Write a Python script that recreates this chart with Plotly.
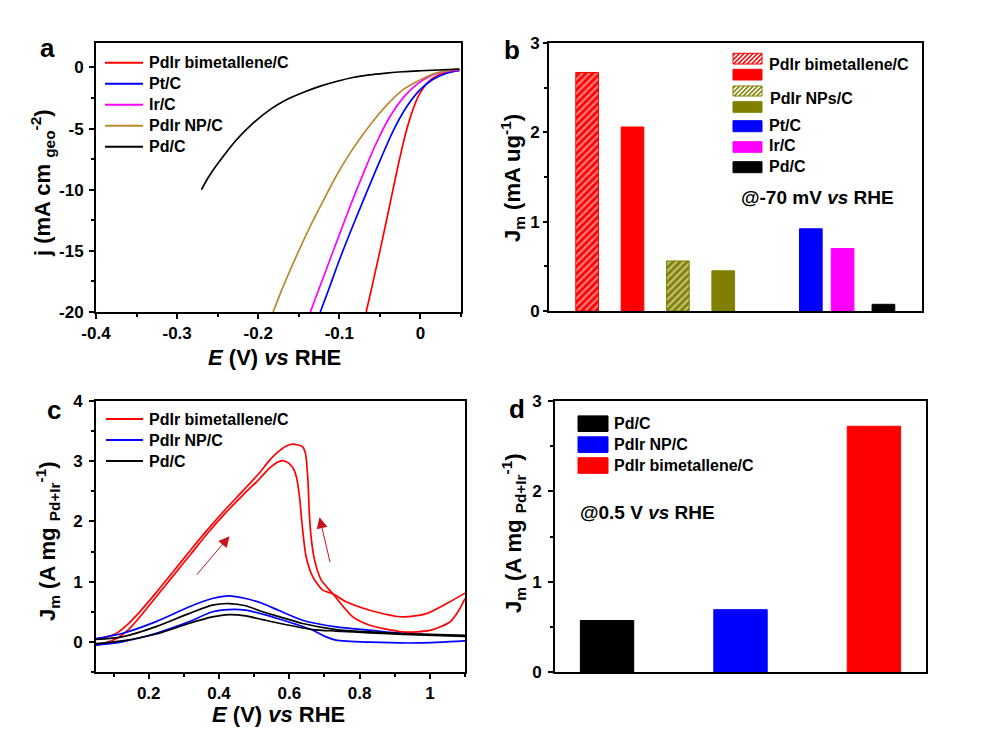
import plotly.graph_objects as go
import numpy as np

# ---------------- Panel a: LSV curves ----------------
lsv_names = ["PdIr bimetallene/C", "Pt/C", "Ir/C", "PdIr NP/C", "Pd/C"]
lsv_colors = ["#FF0000", "#0000FF", "#FF00FF", "#B8892E", "#000000"]

lsv_E_bimetallene = [-0.0669, -0.0587, -0.0504, -0.0422, -0.034, -0.0258, -0.0176, -0.0094, -0.0012, 0.011, 0.0275, 0.048]
lsv_j_bimetallene = [-20.0, -17.62, -15.16, -12.62, -10.03, -7.51, -5.24, -3.47, -2.18, -1.09, -0.49, -0.24]
lsv_E_pt = [-0.1235, -0.112, -0.0997, -0.0833, -0.0669, -0.0504, -0.034, -0.0176, -0.0012, 0.0152, 0.0316, 0.048]
lsv_j_pt = [-20.0, -17.95, -15.71, -12.95, -10.3, -7.70, -5.24, -3.28, -1.88, -0.98, -0.49, -0.24]
lsv_E_ir = [-0.1358, -0.1243, -0.112, -0.0997, -0.0853, -0.0709, -0.0545, -0.0381, -0.0217, -0.0053, 0.011, 0.0316, 0.048]
lsv_j_ir = [-20.0, -17.98, -15.79, -13.63, -11.12, -8.74, -6.2, -4.07, -2.51, -1.42, -0.73, -0.33, -0.19]
lsv_E_np = [-0.1817, -0.1694, -0.153, -0.1366, -0.1202, -0.1038, -0.0874, -0.0709, -0.0545, -0.0381, -0.0217, 0.0, 0.0193, 0.048]
lsv_j_np = [-20.0, -17.95, -15.43, -13.09, -10.95, -8.88, -7.07, -5.49, -4.07, -2.84, -1.83, -1.0, -0.46, -0.11]
lsv_E_pd = [-0.270, -0.2597, -0.2433, -0.227, -0.2063, -0.186, -0.1653, -0.1448, -0.1243, -0.1038, -0.0833, -0.0627, -0.0422, -0.0217, 0.0, 0.048]
lsv_j_pd = [-10.0, -8.8, -7.29, -5.93, -4.56, -3.47, -2.65, -2.05, -1.55, -1.15, -0.82, -0.60, -0.46, -0.35, -0.27, -0.13]

# ---------------- Panel b: mass activity HER ----------------
b_labels = ["PdIr bimetallene/C", "PdIr bimetallene/C", "PdIr NPs/C", "PdIr NPs/C", "Pt/C", "Ir/C", "Pd/C"]
b_values = [2.67, 2.06, 0.56, 0.45, 0.92, 0.70, 0.075]
b_colors = ["#FF0000", "#FF0000", "#808000", "#808000", "#0000FF", "#FF00FF", "#000000"]
b_hatch = ["/", "", "/", "", "", "", ""]
b_note = "@-70 mV <i>vs</i> RHE"

# ---------------- Panel c: CV curves ----------------
cv_names = ["PdIr bimetallene/C", "PdIr NP/C", "Pd/C"]
cv_colors = ["#FF0000", "#0000FF", "#000000"]

cv_bim_fwd_E = [0.05, 0.08, 0.11, 0.14, 0.17, 0.22, 0.27, 0.32, 0.37, 0.42, 0.47, 0.514, 0.543, 0.565, 0.581, 0.60, 0.614, 0.621, 0.629, 0.638, 0.648, 0.667, 0.695, 0.724, 0.762, 0.829, 0.924, 0.99, 1.048, 1.1]
cv_bim_fwd_J = [-0.05, -0.01, 0.06, 0.19, 0.38, 0.74, 1.10, 1.46, 1.82, 2.15, 2.45, 2.70, 2.88, 2.98, 3.01, 2.96, 2.85, 2.72, 2.41, 1.86, 1.41, 1.08, 0.86, 0.80, 0.665, 0.526, 0.415, 0.47, 0.637, 0.81]
cv_bim_bwd_E = [1.1, 1.08, 1.057, 1.0, 0.924, 0.829, 0.781, 0.724, 0.691, 0.672, 0.662, 0.657, 0.653, 0.646, 0.638, 0.625, 0.61, 0.59, 0.567, 0.543, 0.514, 0.47, 0.42, 0.37, 0.32, 0.27, 0.22, 0.17, 0.14, 0.11, 0.08, 0.05]
cv_bim_bwd_J = [0.72, 0.50, 0.33, 0.19, 0.166, 0.277, 0.415, 0.80, 1.025, 1.357, 1.745, 2.13, 2.69, 3.13, 3.24, 3.27, 3.285, 3.25, 3.15, 3.01, 2.80, 2.52, 2.21, 1.88, 1.53, 1.17, 0.81, 0.47, 0.29, 0.15, 0.08, 0.05]

cv_np_up_E = [0.05, 0.124, 0.219, 0.314, 0.381, 0.429, 0.476, 0.524, 0.571, 0.638, 0.733, 0.829, 0.924, 1.1]
cv_np_up_J = [0.055, 0.139, 0.332, 0.58, 0.72, 0.765, 0.72, 0.637, 0.52, 0.36, 0.25, 0.194, 0.139, 0.10]
cv_np_low_E = [0.05, 0.124, 0.219, 0.314, 0.381, 0.429, 0.476, 0.524, 0.571, 0.62, 0.667, 0.705, 0.733, 0.829, 0.971, 1.1]
cv_np_low_J = [-0.055, 0.0, 0.139, 0.332, 0.5, 0.537, 0.526, 0.46, 0.38, 0.29, 0.194, 0.083, 0.028, -0.005, -0.017, 0.017]

cv_pd_up_E = [0.05, 0.124, 0.219, 0.314, 0.381, 0.429, 0.476, 0.524, 0.571, 0.638, 0.733, 0.829, 0.924, 1.1]
cv_pd_up_J = [0.04, 0.083, 0.25, 0.47, 0.61, 0.637, 0.6, 0.5, 0.42, 0.305, 0.205, 0.166, 0.139, 0.11]
cv_pd_low_E = [0.05, 0.124, 0.219, 0.314, 0.381, 0.429, 0.476, 0.524, 0.571, 0.667, 0.733, 0.829, 0.924, 1.1]
cv_pd_low_J = [-0.028, 0.017, 0.127, 0.305, 0.415, 0.454, 0.432, 0.37, 0.31, 0.205, 0.18, 0.15, 0.125, 0.09]

# scan-direction arrows (tail E, tail J, head E, head J)
cv_arrows = [(0.333, 1.09, 0.430, 1.756), (0.717, 1.30, 0.686, 2.07)]

# ---------------- Panel d: mass activity EOR ----------------
d_labels = ["Pd/C", "PdIr NP/C", "PdIr bimetallene/C"]
d_values = [0.57, 0.69, 2.72]
d_colors = ["#000000", "#0000FF", "#FF0000"]
d_note = "@0.5 V <i>vs</i> RHE"

# ---------------- figure ----------------
W, H = 1000, 742
FONT = "Arial, 'Liberation Sans', sans-serif"


def px(x):
    return x / W


def py(y):
    return 1 - y / H


fig = go.Figure()

# panel a traces
lsv_E = [lsv_E_bimetallene, lsv_E_pt, lsv_E_ir, lsv_E_np, lsv_E_pd]
lsv_j = [lsv_j_bimetallene, lsv_j_pt, lsv_j_ir, lsv_j_np, lsv_j_pd]
for name, col, E, j in zip(lsv_names, lsv_colors, lsv_E, lsv_j):
    fig.add_trace(go.Scatter(x=E, y=j, mode="lines", name=name, xaxis="x", yaxis="y",
                             line=dict(color=col, width=1.7, shape="spline", smoothing=1.0)))

# panel b bars (positions spaced as in original)
b_pos = [0, 1, 2, 3, 4.93, 5.63, 6.53]
fig.add_trace(go.Bar(x=b_pos, y=b_values, width=0.5, xaxis="x2", yaxis="y2",
                     marker=dict(color=b_colors, line=dict(color=b_colors, width=1),
                                 pattern=dict(shape=b_hatch, fgcolor=b_colors, bgcolor="white",
                                              size=5, solidity=0.45)),
                     hovertext=b_labels))

# panel c traces
cv_sets = [
    [(cv_bim_fwd_E, cv_bim_fwd_J), (cv_bim_bwd_E, cv_bim_bwd_J)],
    [(cv_np_up_E, cv_np_up_J), (cv_np_low_E, cv_np_low_J)],
    [(cv_pd_up_E, cv_pd_up_J), (cv_pd_low_E, cv_pd_low_J)],
]
for name, col, pairs in zip(cv_names, cv_colors, cv_sets):
    for E, J in pairs:
        fig.add_trace(go.Scatter(x=E, y=J, mode="lines", name=name, xaxis="x3", yaxis="y3",
                                 line=dict(color=col, width=1.7, shape="spline", smoothing=0.7)))

# panel d bars
fig.add_trace(go.Bar(x=list(range(len(d_values))), y=d_values, width=0.4, xaxis="x4", yaxis="y4",
                     marker=dict(color=d_colors, line=dict(color=d_colors, width=1)),
                     hovertext=d_labels))

tickfont = dict(family=FONT, size=17, color="black", weight="bold")


def axis(domain, rng, anchor, tickvals=None, ticktext=None, minor=None, show=True, ticklen=5, standoff=4):
    d = dict(domain=domain, range=rng, anchor=anchor, showline=True, linecolor="black", linewidth=1.8,
             mirror=True, showgrid=False, zeroline=False, tickfont=tickfont, fixedrange=True,
             automargin=False)
    if show:
        d.update(ticks="outside", ticklen=ticklen, tickwidth=1.5, tickcolor="black",
                 tickmode="array", tickvals=tickvals, ticktext=ticktext, ticklabelstandoff=standoff)
        if minor is not None:
            d["minor"] = dict(tickmode="array", tickvals=minor, ticks="outside", ticklen=3,
                              tickwidth=1.5, tickcolor="black", showgrid=False)
    else:
        d.update(ticks="", showticklabels=False)
    return d


def rng_vals(a, b, step):
    return [round(v, 4) for v in np.arange(a, b + step / 2, step)]


fig.update_layout(
    width=W, height=H, margin=dict(l=0, r=0, t=0, b=0, pad=0), autosize=False,
    paper_bgcolor="white", plot_bgcolor="white", showlegend=False,
    font=dict(family=FONT, color="black"),
    xaxis=axis([px(96), px(461)], [-0.4, 0.05], "y",
               [-0.4, -0.3, -0.2, -0.1, 0.0], ["-0.4", "-0.3", "-0.2", "-0.1", "0"],
               rng_vals(-0.4, 0.05, 0.05), standoff=0),
    yaxis=axis([py(312), py(43)], [-20, 2], "x",
               [0, -5, -10, -15, -20], ["0", "-5", "-10", "-15", "-20"],
               rng_vals(-20, 0, 2.5), standoff=2),
    xaxis2=axis([px(549), px(922)], [-0.84, 7.38], "y2", show=False),
    yaxis2=axis([py(311), py(43)], [0, 3], "x2", [0, 1, 2, 3], ["0", "1", "2", "3"],
                rng_vals(0, 3, 0.5), ticklen=4, standoff=0),
    xaxis3=axis([px(96), px(465)], [0.05, 1.1], "y3",
                [0.2, 0.4, 0.6, 0.8, 1.0], ["0.2", "0.4", "0.6", "0.8", "1"],
                rng_vals(0.1, 1.1, 0.1), standoff=0),
    yaxis3=axis([py(672), py(401)], [-0.5, 4], "x3", [0, 1, 2, 3, 4], ["0", "1", "2", "3", "4"],
                rng_vals(-0.5, 4, 0.5), standoff=3),
    xaxis4=axis([px(555), px(926)], [-0.39, 2.39], "y4", show=False),
    yaxis4=axis([py(672), py(401)], [0, 3], "x4", [0, 1, 2, 3], ["0", "1", "2", "3"],
                rng_vals(0, 3, 0.5), ticklen=5, standoff=3),
)

ann = []
shapes = []


def text(x, y, s, size=16, xanchor="left", angle=0):
    ann.append(dict(x=px(x), y=py(y), xref="paper", yref="paper", text=s, showarrow=False,
                    xanchor=xanchor, yanchor="middle", textangle=angle,
                    font=dict(family=FONT, size=size, color="black")))


# panel letters
text(47, 48, "<b>a</b>", 26, "center")
text(512, 50, "<b>b</b>", 26, "center")
text(54, 410, "<b>c</b>", 26, "center")
text(517, 409, "<b>d</b>", 26, "center")

# axis titles
xt = "<b><i>E</i> (V) <i>vs</i> RHE</b>"
text(274, 357, xt, 22, "center")
text(278, 714, xt, 22, "center")
text(42, 183, "<b>j (mA cm <sub>geo</sub><sup>-2</sup>)</b>", 22, "center", -90)
text(513, 178, "<b>J<sub>m</sub> (mA ug<sup>-1</sup>)</b>", 22, "center", -90)
text(47, 541, "<b>J<sub>m</sub> (A mg <sub>Pd+Ir</sub><sup>-1</sup>)</b>", 22, "center", -90)
text(513, 533, "<b>J<sub>m</sub> (A mg <sub>Pd+Ir</sub><sup>-1</sup>)</b>", 22, "center", -90)

# notes
text(817, 197, "<b>" + b_note + "</b>", 19, "center")
text(578, 512, "<b>" + d_note + "</b>", 19, "left")

# legend a
for i, (name, col) in enumerate(zip(lsv_names, lsv_colors)):
    yy = 62.7 + 21 * i
    shapes.append(dict(type="line", xref="paper", yref="paper", x0=px(105), x1=px(143),
                       y0=py(yy), y1=py(yy), line=dict(color=col, width=2)))
    text(147, yy, "<b>" + name + "</b>", 16)

# legend c
for i, (name, col) in enumerate(zip(cv_names, cv_colors)):
    yy = 419 + 21 * i
    shapes.append(dict(type="line", xref="paper", yref="paper", x0=px(106), x1=px(143),
                       y0=py(yy), y1=py(yy), line=dict(color=col, width=2)))
    text(147, yy, "<b>" + name + "</b>", 16)


def rect(x0, y0, x1, y1, col):
    shapes.append(dict(type="rect", xref="paper", yref="paper", x0=px(x0), x1=px(x1),
                       y0=py(y1), y1=py(y0), fillcolor=col, line=dict(color=col, width=1)))


def hatch(x0, y0, x1, y1, col, p=4.5):
    shapes.append(dict(type="rect", xref="paper", yref="paper", x0=px(x0), x1=px(x1),
                       y0=py(y1), y1=py(y0), fillcolor="white", line=dict(color=col, width=1)))
    segs = []
    c = x0 + y0 + p / 2
    while c < x1 + y1:
        lo = max(x0, c - y1)
        hi = min(x1, c - y0)
        if hi > lo:
            segs.append("M%.5f,%.5f L%.5f,%.5f" % (px(lo), py(c - lo), px(hi), py(c - hi)))
        c += p
    shapes.append(dict(type="path", xref="paper", yref="paper", path=" ".join(segs),
                       line=dict(color=col, width=1.6)))


# legend b
bx0, bx1 = 733, 762
hatch(bx0, 53.3, bx1, 64, b_colors[0])
rect(bx0, 69.3, bx1, 80, b_colors[1])
hatch(bx0, 86, bx1, 96, b_colors[2])
rect(bx0, 101.7, bx1, 112.3, b_colors[3])
rect(bx0, 120.7, bx1, 131.7, b_colors[4])
rect(bx0, 141.7, bx1, 152.3, b_colors[5])
rect(bx0, 161.7, bx1, 172.7, b_colors[6])
text(767, 64.3, "<b>" + b_labels[0] + "</b>", 16)
text(768, 98.3, "<b>" + b_labels[2] + "</b>", 16)
text(767, 125.7, "<b>" + b_labels[4] + "</b>", 16)
text(767, 145.7, "<b>" + b_labels[5] + "</b>", 16)
text(767, 166.7, "<b>" + b_labels[6] + "</b>", 16)

# legend d
for i, (name, col) in enumerate(zip(d_labels, d_colors)):
    yc = 423.7 + 20.9 * i
    rect(578, yc - 7.8, 608, yc + 7.8, col)
    text(612, yc, "<b>" + name + "</b>", 16)

# arrows panel c
for (tx, ty, hx, hy) in cv_arrows:
    ann.append(dict(x=hx, y=hy, ax=tx, ay=ty, xref="x3", yref="y3", axref="x3", ayref="y3",
                    text="", showarrow=True, arrowhead=2, arrowsize=2.2, arrowwidth=1,
                    arrowcolor="#C8141E"))

fig.update_layout(annotations=ann, shapes=shapes)

fig.write_html("out.html", config={"displayModeBar": False},
               post_script="document.body.style.margin='0';document.body.style.overflow='hidden';")
